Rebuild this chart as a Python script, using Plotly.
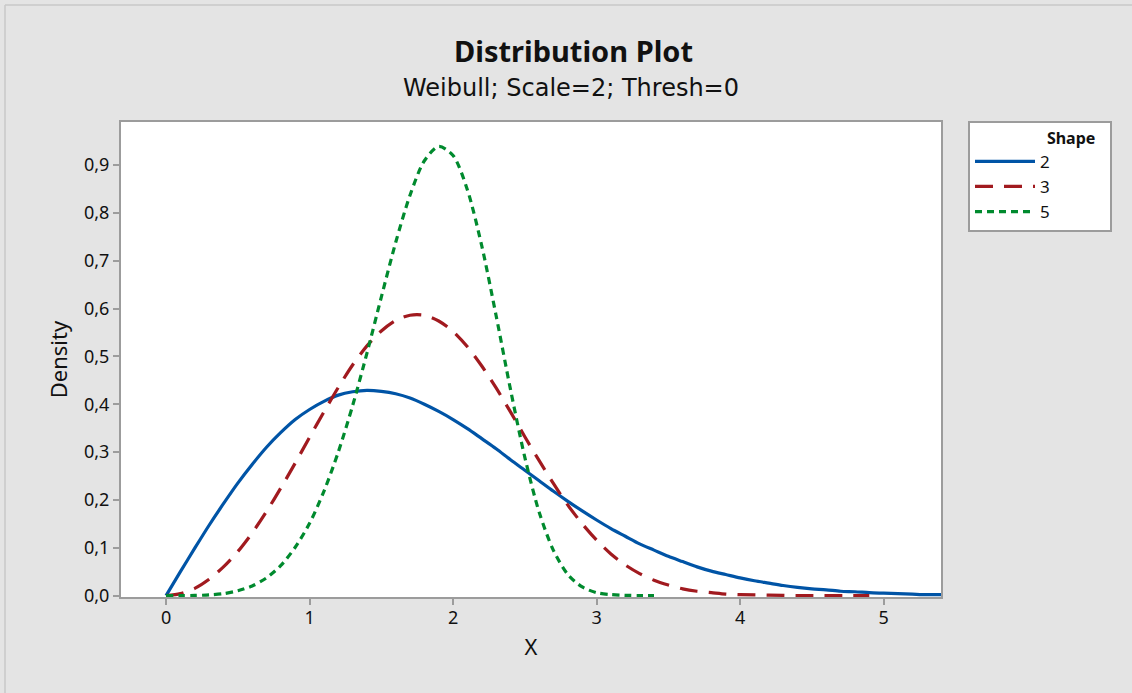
import plotly.graph_objects as go

# ---- data ----
shape_labels = ["2", "3", "5"]

x_shape2 = [0.0, 0.1, 0.2, 0.3, 0.4, 0.5, 0.6, 0.7, 0.8, 0.9, 1.0, 1.1, 1.2, 1.3, 1.4,
            1.5, 1.6, 1.7, 1.8, 1.9, 2.0, 2.1, 2.2, 2.3, 2.4, 2.5, 2.6, 2.7, 2.8, 2.9,
            3.0, 3.1, 3.2, 3.3, 3.4, 3.5, 3.6, 3.7, 3.8, 3.9, 4.0, 4.1, 4.2, 4.3, 4.4,
            4.5, 4.6, 4.7, 4.8, 4.9, 5.0, 5.1, 5.2, 5.3, 5.4]
y_shape2 = [0.0, 0.050, 0.099, 0.147, 0.192, 0.235, 0.274, 0.310, 0.341, 0.368, 0.389,
            0.406, 0.419, 0.426, 0.429, 0.427, 0.422, 0.413, 0.400, 0.385, 0.368, 0.349,
            0.328, 0.307, 0.284, 0.262, 0.240, 0.218, 0.197, 0.177, 0.158, 0.140, 0.124,
            0.108, 0.095, 0.082, 0.071, 0.060, 0.051, 0.044, 0.037, 0.031, 0.026, 0.021,
            0.017, 0.014, 0.012, 0.009, 0.008, 0.006, 0.005, 0.004, 0.003, 0.002, 0.002]

x_shape3 = [0.0, 0.1, 0.2, 0.3, 0.4, 0.5, 0.6, 0.7, 0.8, 0.9, 1.0, 1.1, 1.2, 1.3, 1.4,
            1.5, 1.6, 1.7, 1.8, 1.9, 2.0, 2.1, 2.2, 2.3, 2.4, 2.5, 2.6, 2.7, 2.8, 2.9,
            3.0, 3.1, 3.2, 3.3, 3.4, 3.5, 3.6, 3.7, 3.8, 3.9, 4.0, 4.2, 4.4, 4.6, 4.9]
y_shape3 = [0.0, 0.004, 0.015, 0.034, 0.060, 0.092, 0.131, 0.176, 0.225, 0.277, 0.331,
            0.384, 0.435, 0.482, 0.522, 0.553, 0.575, 0.586, 0.586, 0.574, 0.552, 0.520,
            0.480, 0.434, 0.384, 0.332, 0.282, 0.234, 0.189, 0.150, 0.116, 0.087, 0.064,
            0.046, 0.032, 0.022, 0.014, 0.009, 0.006, 0.003, 0.002, 0.001, 0.0, 0.0, 0.0]

x_shape5 = [0.0, 0.1, 0.2, 0.3, 0.4, 0.5, 0.6, 0.7, 0.8, 0.9, 1.0, 1.1, 1.2, 1.3, 1.4,
            1.5, 1.6, 1.7, 1.8, 1.9, 2.0, 2.1, 2.2, 2.3, 2.4, 2.5, 2.6, 2.7, 2.8, 2.9,
            3.0, 3.1, 3.2, 3.3, 3.4]
y_shape5 = [0.0, 0.0, 0.0003, 0.0013, 0.004, 0.010, 0.020, 0.037, 0.063, 0.101, 0.151,
            0.218, 0.300, 0.397, 0.507, 0.624, 0.738, 0.837, 0.909, 0.939, 0.920, 0.848,
            0.731, 0.585, 0.431, 0.289, 0.174, 0.094, 0.044, 0.018, 0.006, 0.002, 0.0005,
            0.0001, 0.0]

x_tickvals = [0, 1, 2, 3, 4, 5]
x_ticktext = ["0", "1", "2", "3", "4", "5"]
y_tickvals = [0.0, 0.1, 0.2, 0.3, 0.4, 0.5, 0.6, 0.7, 0.8, 0.9]
y_ticktext = ["0,0", "0,1", "0,2", "0,3", "0,4", "0,5", "0,6", "0,7", "0,8", "0,9"]

title_text = "Distribution Plot"
subtitle_text = "Weibull; Scale=2; Thresh=0"
legend_title = "Shape"

# ---- styles ----
FONT = "Noto Sans"
BG = "#e4e4e4"
AXIS = "#9c9c9c"
TXT = "#111111"
colors = ["#0054a6", "#a11a1f", "#008a2e"]
dashes = ["solid", "18px,11px", "7px,5px"]

fig = go.Figure()
series = [(x_shape2, y_shape2), (x_shape3, y_shape3), (x_shape5, y_shape5)]
for (xs, ys), name, c, d in zip(series, shape_labels, colors, dashes):
    fig.add_trace(go.Scatter(
        x=xs, y=ys, name=name, mode="lines",
        line=dict(color=c, width=3.2, dash=d, shape="spline", smoothing=0.8),
    ))

W, H = 1132, 693
L, R, T, B = 121, 941, 122, 597

def px(xp):
    return (xp - L) / (R - L)

def py(yp):
    return (B - yp) / (B - T)

fig.update_layout(
    width=W, height=H,
    margin=dict(l=L, r=W - R, t=T, b=H - B, pad=0),
    paper_bgcolor=BG, plot_bgcolor="white",
    font=dict(family=FONT, color=TXT, size=16),
    showlegend=True,
    legend=dict(
        x=px(968), y=py(121), xanchor="left", yanchor="top",
        bgcolor="white", bordercolor=AXIS, borderwidth=2,
        font=dict(family=FONT, size=17, color=TXT),
        title=dict(text="\u00a0" * 18 + "<b>" + legend_title + "</b>" + "\u00a0" * 3,
                   font=dict(family=FONT, size=16, color=TXT)),
        itemwidth=60,
        tracegroupgap=0,
    ),
    xaxis=dict(
        range=[-0.314, 5.40], tickvals=x_tickvals, ticktext=x_ticktext,
        showgrid=False, zeroline=False,
        showline=True, mirror=True, linecolor=AXIS, linewidth=2,
        ticks="outside", ticklen=6, tickwidth=1.5, tickcolor=AXIS,
        tickfont=dict(family=FONT, size=18, color=TXT),
        ticklabelstandoff=-3,
        title=dict(text="X", font=dict(family=FONT, size=22, color=TXT), standoff=12),
        layer="below traces",
    ),
    yaxis=dict(
        range=[-0.003, 0.99], tickvals=y_tickvals, ticktext=y_ticktext,
        showgrid=False, zeroline=False,
        showline=True, mirror=True, linecolor=AXIS, linewidth=2,
        ticks="outside", ticklen=6, tickwidth=1.5, tickcolor=AXIS,
        tickfont=dict(family=FONT, size=18, color=TXT),
        title=dict(text="Density", font=dict(family=FONT, size=22, color=TXT), standoff=10),
        layer="below traces",
    ),
    annotations=[
        dict(text="<b>" + title_text + "</b>", x=px(573), y=py(51), xref="paper", yref="paper",
             showarrow=False, xanchor="center", yanchor="middle",
             font=dict(family=FONT, size=29, color=TXT)),
        dict(text=subtitle_text, x=px(571), y=py(88), xref="paper", yref="paper",
             showarrow=False, xanchor="center", yanchor="middle",
             font=dict(family="DejaVu Sans", size=24, color=TXT)),
    ],
    shapes=[
        dict(type="line", xref="paper", yref="paper", x0=px(5), x1=px(5), y0=py(5), y1=py(H),
             line=dict(color="#c9c9c9", width=1.5)),
        dict(type="line", xref="paper", yref="paper", x0=px(5), x1=px(W), y0=py(5), y1=py(5),
             line=dict(color="#c9c9c9", width=1.5)),
    ],
)

fig.write_html("out.html")
